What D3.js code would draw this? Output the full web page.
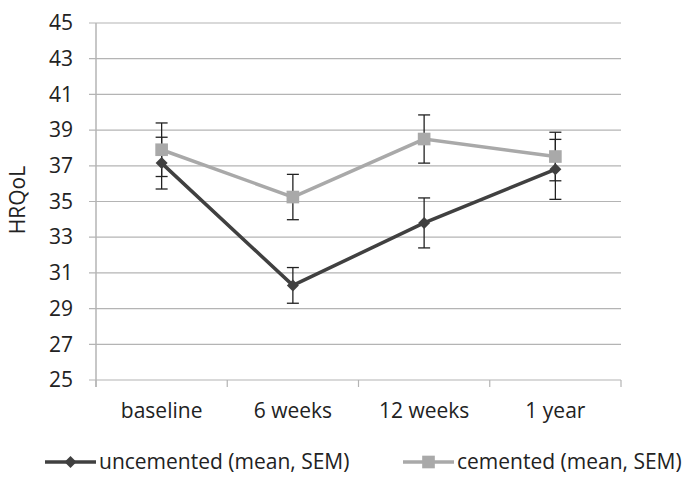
<!DOCTYPE html>
<html>
<head>
<meta charset="utf-8">
<script src="https://cdn.jsdelivr.net/npm/d3@7"></script>
<style>
  body { margin: 0; background: #fff; }
  text { font-family: "Open Sans", "Noto Sans", sans-serif; fill: #222; }
</style>
</head>
<body>
<div id="chart-area"></div>
<script>
// data
var categories = ["baseline", "6 weeks", "12 weeks", "1 year"];
var uncemented = [37.15, 30.3, 33.8, 36.8];
var uncementedSem = [1.45, 1.0, 1.4, 1.68];
var cemented = [37.9, 35.25, 38.5, 37.52];
var cementedSem = [1.5, 1.27, 1.35, 1.36];
var yTicks = [25, 27, 29, 31, 33, 35, 37, 39, 41, 43, 45];

var margin = { left: 96, right: 66, top: 23, bottom: 114 };
var width = 687 - margin.left - margin.right,
    height = 494 - margin.top - margin.bottom;

var fontSize = "21px";

var svg = d3.select("#chart-area")
    .append("svg")
        .attr("width", 687)
        .attr("height", 494);

var g = svg.append("g")
    .attr("transform", "translate(" + margin.left + "," + margin.top + ")");

var x = d3.scaleBand()
    .domain(categories)
    .range([0, width]);

var y = d3.scaleLinear()
    .domain([25, 45])
    .range([height, 0]);

var gridColor = "#b4b4b4";

// gridlines (with the little tick stubs left of the axis)
g.selectAll(".grid")
    .data(yTicks)
    .enter().append("line")
        .attr("class", "grid")
        .attr("x1", -7)
        .attr("x2", width)
        .attr("y1", function(d) { return y(d); })
        .attr("y2", function(d) { return y(d); })
        .attr("stroke", gridColor)
        .attr("stroke-width", 1.2);

// Y Axis
var yAxisCall = d3.axisLeft(y).tickValues(yTicks).tickSize(0).tickPadding(23);
var yAxis = g.append("g").call(yAxisCall);
yAxis.select(".domain").remove();
yAxis.selectAll("text").attr("font-size", fontSize).style("font-family", "'Open Sans', sans-serif").attr("fill", "#222");

// X Axis
var xAxisCall = d3.axisBottom(x).tickSize(0).tickPadding(23);
var xAxis = g.append("g")
    .attr("transform", "translate(0," + height + ")")
    .call(xAxisCall);
xAxis.select(".domain").remove();
xAxis.selectAll("text").attr("font-size", fontSize).style("font-family", "'Open Sans', sans-serif").attr("fill", "#222");

// x tick marks at band boundaries
var bounds = categories.map(function(c) { return x(c); }).concat([width]);
g.selectAll(".xtick")
    .data(bounds)
    .enter().append("line")
        .attr("x1", function(d) { return d; })
        .attr("x2", function(d) { return d; })
        .attr("y1", height)
        .attr("y2", height + 7)
        .attr("stroke", gridColor)
        .attr("stroke-width", 1.2);
g.append("line")
    .attr("x1", 0).attr("x2", 0)
    .attr("y1", 0).attr("y2", height + 7)
    .attr("stroke", gridColor).attr("stroke-width", 1.5);

// Y Label
g.append("text")
    .attr("transform", "rotate(-90)")
    .attr("x", -(200 - margin.top))
    .attr("y", -margin.left + 25)
    .attr("font-size", fontSize)
    .attr("text-anchor", "middle")
    .text("HRQoL");

var cx = function(d, i) { return x(categories[i]) + x.bandwidth() / 2; };

var series = [
    { name: "uncemented (mean, SEM)", values: uncemented, sem: uncementedSem, color: "#404040", size: 72, rot: 45 },
    { name: "cemented (mean, SEM)", values: cemented, sem: cementedSem, color: "#a9a9a9", size: 160, rot: 0 }
];

var line = d3.line()
    .x(function(d, i) { return cx(d, i); })
    .y(function(d) { return y(d); });

// draw cemented first so uncemented sits on top where they meet
series.slice().reverse().forEach(function(s) {
    g.append("path")
        .datum(s.values)
        .attr("d", line)
        .attr("fill", "none")
        .attr("stroke", s.color)
        .attr("stroke-width", 3.5);
});

// error bars
series.forEach(function(s) {
    var eb = g.append("g");
    s.values.forEach(function(v, i) {
        var px = cx(v, i);
        var lo = y(v - s.sem[i]), hi = y(v + s.sem[i]);
        eb.append("line").attr("x1", px).attr("x2", px).attr("y1", lo).attr("y2", hi)
            .attr("stroke", "#222").attr("stroke-width", 1.3);
        [lo, hi].forEach(function(yy) {
            eb.append("line").attr("x1", px - 6).attr("x2", px + 6).attr("y1", yy).attr("y2", yy)
                .attr("stroke", "#222").attr("stroke-width", 1.3);
        });
    });
});

// markers: square for cemented, square turned 45deg (diamond) for uncemented
series.slice().reverse().forEach(function(s) {
    g.selectAll(null)
        .data(s.values)
        .enter().append("path")
            .attr("d", d3.symbol().type(d3.symbolSquare).size(s.size))
            .attr("transform", function(d, i) { return "translate(" + cx(d, i) + "," + y(d) + ") rotate(" + s.rot + ")"; })
            .attr("fill", s.color);
});

// Legend
var legendX = [45, 403];
series.forEach(function(s, i) {
    var lg = svg.append("g").attr("transform", "translate(" + legendX[i] + ",462)");
    lg.append("line").attr("x1", 0).attr("x2", 51).attr("y1", 0).attr("y2", 0)
        .attr("stroke", s.color).attr("stroke-width", 3.5);
    lg.append("path")
        .attr("d", d3.symbol().type(d3.symbolSquare).size(s.size))
        .attr("transform", "translate(25.5,0) rotate(" + s.rot + ")")
        .attr("fill", s.color);
    lg.append("text")
        .attr("x", 54)
        .attr("y", 0)
        .attr("dy", "0.35em")
        .attr("font-size", fontSize)
        .text(s.name);
});
</script>
</body>
</html>
